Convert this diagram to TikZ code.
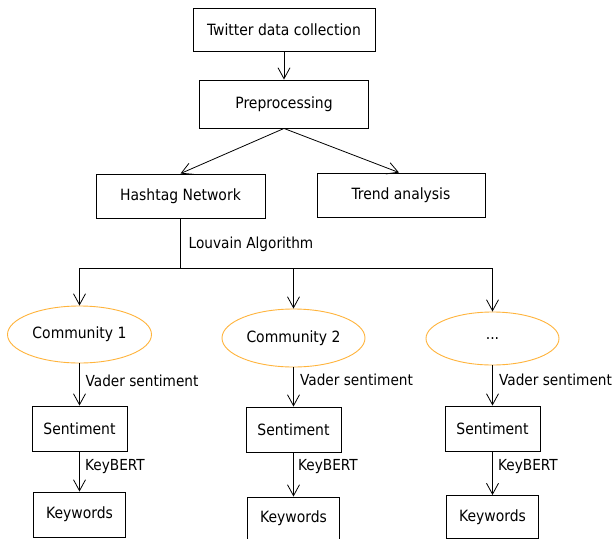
\documentclass[tikz,border=0pt]{standalone}
\usepackage{fontspec}
\setmainfont{DejaVu Sans Condensed}
\usetikzlibrary{arrows.meta,shapes.geometric}
\definecolor{ellorange}{RGB}{255,180,60}
\begin{document}
\begin{tikzpicture}[x=1pt,y=-1pt,
  font=\fontsize{15.5}{18}\selectfont,
  box/.style={draw=black,line width=0.9pt,inner sep=0pt,align=center},
  comm/.style={draw=ellorange,ellipse,line width=0.9pt,inner sep=0pt},
  lbl/.style={anchor=west,inner sep=0pt,font=\fontsize{15.2}{18}\selectfont},
  arr/.style={draw=black,line width=0.8pt,-{Straight Barb[length=11pt,width=12pt,line width=0.8pt]}},
  ln/.style={draw=black,line width=0.8pt}]
\useasboundingbox (0,0) rectangle (615,538);
\fill[white] (0,0) rectangle (615,538);
% top boxes
\node[box,minimum width=182pt,minimum height=43pt] (tw) at (284,29.5) {Twitter data collection};
\node[box,minimum width=169pt,minimum height=48pt] (pre) at (284,104) {Preprocessing};
\node[box,minimum width=169pt,minimum height=44pt] (hash) at (180.5,196) {Hashtag Network};
\node[box,minimum width=168pt,minimum height=44pt] (trend) at (401,195) {Trend analysis};
% communities
\node[comm,minimum width=144pt,minimum height=57pt] (c1) at (79.5,334.5) {Community 1};
\node[comm,minimum width=143pt,minimum height=58pt] (c2) at (293.5,338) {Community 2};
\node[comm,minimum width=133pt,minimum height=53pt] (c3) at (492.5,338.5) {...};
% sentiment
\node[box,minimum width=95pt,minimum height=45pt] (s1) at (79.5,428.5) {Sentiment};
\node[box,minimum width=95pt,minimum height=45pt] (s2) at (293.5,429.5) {Sentiment};
\node[box,minimum width=95pt,minimum height=45pt] (s3) at (492.5,428.5) {Sentiment};
% keywords
\node[box,minimum width=92pt,minimum height=45pt] (k1) at (79.5,514.5) {Keywords};
\node[box,minimum width=92pt,minimum height=43pt] (k2) at (293.5,518.5) {Keywords};
\node[box,minimum width=92pt,minimum height=43pt] (k3) at (492.5,517) {Keywords};
% connectors
\draw[arr] (tw.south) -- (pre.north);
\draw[arr] (pre.south) -- (hash.north);
\draw[arr] (pre.south) -- ([xshift=-2pt]trend.north);
\coordinate (hj) at (180.5,268);
\coordinate (b1) at (79.5,268);
\coordinate (b2) at (293.5,268);
\coordinate (b3) at (492.5,268);
\draw[ln] (hash.south) -- (hj);
\draw[ln] (b1) -- (b3);
\draw[arr] (b1) -- (c1.north);
\draw[arr] (b2) -- (c2.north);
\draw[arr] (b3) -- (c3.north);
\draw[arr] (c1.south) -- (s1.north);
\draw[arr] (c2.south) -- (s2.north);
\draw[arr] (c3.south) -- (s3.north);
\draw[arr] (s1.south) -- (k1.north);
\draw[arr] (s2.south) -- (k2.north);
\draw[arr] (s3.south) -- (k3.north);
% labels
\node[lbl] (lou) at (188.5,244) {Louvain Algorithm};
\node[lbl] (v1) at (85.5,381) {Vader sentiment};
\node[lbl] (v2) at (300,380) {Vader sentiment};
\node[lbl] (v3) at (499,380) {Vader sentiment};
\node[lbl] (kb1) at (85,467) {KeyBERT};
\node[lbl] (kb2) at (298,467) {KeyBERT};
\node[lbl] (kb3) at (498,467) {KeyBERT};
\end{tikzpicture}
\end{document}
